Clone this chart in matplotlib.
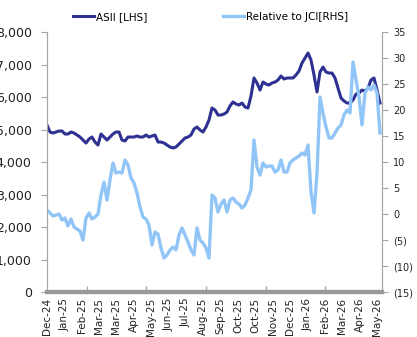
import matplotlib
matplotlib.use("Agg")
import matplotlib.pyplot as plt
import numpy as np
from matplotlib.ticker import FuncFormatter, MultipleLocator

# -----------------------------------------
# Data
# -----------------------------------------
month_labels = ["Dec-24", "Jan-25", "Feb-25", "Mar-25", "Mar-25", "Apr-25", "May-25",
                "Jun-25", "Jul-25", "Aug-25", "Sep-25", "Oct-25", "Oct-25", "Nov-25",
                "Dec-25", "Jan-26", "Feb-26", "Mar-26", "Apr-26", "May-26"]

# ASII share price [LHS]
asii = [5138, 4923, 4892, 4923, 4954, 4954, 4862, 4862, 4923, 4892,
        4831, 4769, 4677, 4585, 4708, 4769, 4615, 4523, 4862, 4769,
        4677, 4769, 4862, 4923, 4923, 4677, 4646, 4769, 4769, 4769,
        4800, 4769, 4769, 4831, 4769, 4800, 4831, 4615, 4615, 4585,
        4523, 4462, 4431, 4462, 4554, 4646, 4738, 4769, 4831, 5015,
        5077, 4985, 4923, 5077, 5292, 5662, 5600, 5446, 5446, 5477,
        5538, 5723, 5846, 5785, 5754, 5815, 5692, 5662, 6031, 6585,
        6431, 6215, 6462, 6400, 6369, 6431, 6462, 6523, 6646, 6554,
        6585, 6585, 6585, 6677, 6800, 7046, 7200, 7354, 7138, 6677,
        6154, 6769, 6923, 6769, 6738, 6738, 6585, 6277, 5969, 5877,
        5815, 5815, 5908, 6092, 6123, 6215, 6185, 6277, 6523, 6585,
        6215, 5815]

# Relative performance to JCI, % [RHS]
rel_jci = [0.77, 0.19, -0.38, -0.19, 0.0, -1.15, -0.77, -2.31, -0.96, -2.5,
           -2.88, -3.27, -5.0, -0.77, 0.19, -0.96, -0.58, 0.0, 3.65, 6.15,
           2.69, 6.54, 9.81, 7.88, 8.08, 7.88, 10.38, 9.42, 6.92, 5.96,
           4.04, 1.35, -0.58, -0.96, -2.12, -5.96, -3.46, -3.85, -6.54, -8.46,
           -7.88, -6.92, -6.35, -6.92, -4.04, -2.69, -4.04, -5.38, -6.92, -7.88,
           -2.69, -5.0, -5.58, -6.54, -8.46, 3.65, 3.08, 0.38, 1.92, 2.69,
           0.38, 2.69, 3.08, 2.31, 1.92, 1.15, 1.73, 3.08, 4.62, 14.23,
           9.04, 7.5, 9.81, 9.04, 9.23, 9.23, 8.08, 8.46, 10.38, 8.08,
           8.08, 9.81, 10.38, 10.77, 11.15, 11.73, 11.35, 13.27, 4.23, 0.2,
           7.88, 22.5, 19.42, 16.73, 14.62, 14.62, 15.58, 16.54, 17.12, 19.04,
           20.0, 19.42, 29.23, 25.77, 22.5, 17.12, 23.27, 24.42, 23.85, 24.81,
           23.27, 15.58]

dark_blue = "#2E3192"
light_blue = "#92C5F7"
grey = "#A6A6A6"

plt.rcParams['font.family'] = ['DejaVu Sans']
plt.rcParams['font.size'] = 7.5

# -----------------------------------------
# Plot
# -----------------------------------------
fig = plt.figure(figsize=(4.17, 3.37), dpi=100)
ax = fig.add_axes([0.1127, 0.1335, 0.8034, 0.7715])
ax2 = ax.twinx()

x = np.arange(len(asii))
l1, = ax.plot(x, asii, color=dark_blue, lw=2.2, label="ASII [LHS]")
l2, = ax2.plot(x, rel_jci, color=light_blue, lw=2.4, label="Relative to JCI[RHS]")

n = len(asii)
ax.set_xlim(0, n - 0.33)
ax.set_ylim(0, 8000)
ax2.set_ylim(-15, 35)

ax.yaxis.set_major_locator(MultipleLocator(1000))
ax.yaxis.set_major_formatter(FuncFormatter(lambda v, p: f"{int(v):,}"))
ax2.yaxis.set_major_locator(MultipleLocator(5))
ax2.yaxis.set_major_formatter(
    FuncFormatter(lambda v, p: f"({abs(int(v))})" if v < 0 else f"{int(v)}"))

# month labels spread along the category axis
label_pos = np.linspace(0, n - 2, len(month_labels))
ax.set_xticks(label_pos)
ax.set_xticklabels(month_labels, rotation=90)
ax.tick_params(axis='x', length=0, pad=4, colors='#222222')
# excel-style major tick marks
ax.set_xticks(np.linspace(13.3, 92.7, 5), minor=True)
ax.tick_params(axis='x', which='minor', direction='in', length=4, color=grey, width=1)

ax.tick_params(axis='y', direction='out', length=4, color=grey, pad=7,
               labelcolor='#222222', labelsize=9)
ax2.tick_params(axis='y', direction='out', length=4, color=grey, pad=4,
                labelcolor='#222222', labelsize=7)

for a in (ax, ax2):
    a.spines['top'].set_visible(False)
    a.spines['left'].set_color(grey)
    a.spines['right'].set_color(grey)
    a.spines['bottom'].set_color('#999999')
    a.spines['bottom'].set_linewidth(3)

fig.legend(handles=[l1, l2], loc='center', bbox_to_anchor=(0.505, 0.95), ncol=2,
           frameon=False, handlelength=2.0, handletextpad=0.2, columnspacing=7.2,
           fontsize=7.5)

plt.savefig("out.png", dpi=100)
